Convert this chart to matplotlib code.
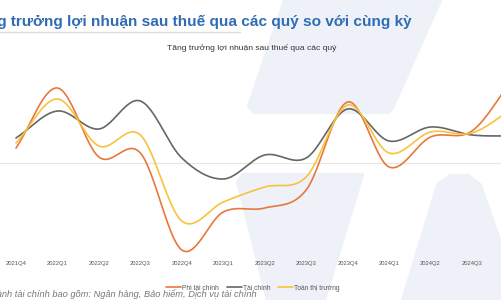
import numpy as np
import matplotlib
matplotlib.use("Agg")
from matplotlib import pyplot as plt
from matplotlib.patches import Polygon

plt.rcParams['font.family'] = ['Liberation Sans', 'DejaVu Sans']

quarters = ["2021Q4", "2022Q1", "2022Q2", "2022Q3", "2022Q4", "2023Q1", "2023Q2",
            "2023Q3", "2023Q4", "2024Q1", "2024Q2", "2024Q3", "2024Q4"]
phi_tai_chinh = [15, 75, 6, 10, -87, -49, -45, -27, 61, -4, 26, 32, 85]
tai_chinh = [25, 52, 34, 62, 5, -16, 8, 5, 54, 22, 36, 28, 27]
toan_thi_truong = [20, 64, 17, 28, -58, -39, -24, -14, 58, 10, 31, 30, 55]

series_names = ["Phi tài chính", "Tài chính", "Toàn thị trường"]
colors = ["#e9773c", "#666666", "#f9c23c"]

W, H = 501, 300


def px(x, y):
    # pixel (from top-left) -> figure fraction
    return (x / W, 1 - y / H)


def smooth(xs, ys, n=30):
    # cardinal (Catmull-Rom) spline through the points
    xs = np.asarray(xs, float)
    ys = np.asarray(ys, float)
    m = np.gradient(ys, xs)
    out_x, out_y = [], []
    for i in range(len(xs) - 1):
        t = np.linspace(0, 1, n, endpoint=False)
        h = xs[i + 1] - xs[i]
        h00 = 2 * t**3 - 3 * t**2 + 1
        h10 = t**3 - 2 * t**2 + t
        h01 = -2 * t**3 + 3 * t**2
        h11 = t**3 - t**2
        out_x.append(xs[i] + t * h)
        out_y.append(h00 * ys[i] + h10 * h * m[i] + h01 * ys[i + 1] + h11 * h * m[i + 1])
    out_x.append([xs[-1]])
    out_y.append([ys[-1]])
    return np.concatenate(out_x), np.concatenate(out_y)


fig = plt.figure(figsize=(W / 100, H / 100), dpi=100)
fig.patch.set_facecolor("white")

# watermark shapes in the background
bg = "#eef2f8"
shapes = [
    [(285, 0), (440, 0), (392, 108), (388, 112), (254, 112), (249, 106)],
    [(243, 175), (362, 175), (324, 300), (268, 300), (238, 182)],
    [(438, 185), (450, 176), (468, 176), (480, 185), (520, 300), (403, 300)],
]
for s in shapes:
    fig.patches.append(Polygon([px(*p) for p in s], closed=True, transform=fig.transFigure,
                               facecolor=bg, edgecolor=bg, lw=3, joinstyle="round", zorder=-5))

ax = fig.add_axes([0, 44 / H, 1, (256 - 45) / H])
ax.patch.set_visible(False)
x = np.arange(len(quarters))
for vals, name, c in zip([phi_tai_chinh, tai_chinh, toan_thi_truong], series_names, colors):
    sx, sy = smooth(x, vals)
    ax.plot(sx, sy, color=c, lw=1.2, label=name, solid_capstyle="round")

ax.axhline(0, color="#e6e6e6", lw=0.8, zorder=0)
ax.set_xlim(-0.386, 11.70)
ax.set_ylim(-93, 118)
# the last quarter sits past the right edge, so only the visible ones get a label
ax.set_xticks(x[:12])
ax.set_xticklabels(quarters[:12])
ax.tick_params(axis="x", length=0, pad=3.5, labelsize=4.2, labelcolor="#555555")
ax.set_yticks([])
for sp in ax.spines.values():
    sp.set_visible(False)

# titles
fig.text(*px(412, 22), "Tăng trưởng lợi nhuận sau thuế qua các quý so với cùng kỳ",
         ha="right", va="center", fontsize=11.05, fontweight="bold", color="#2f6cb3")
fig.add_artist(plt.Line2D([0, 240 / W], [1 - 32 / H, 1 - 32 / H], color="#999999",
                          lw=1, alpha=0.35))
fig.text(*px(252, 48), "Tăng trưởng lợi nhuận sau thuế qua các quý",
         ha="center", va="center", fontsize=6.1, color="#333333")

fig.legend(loc="center", bbox_to_anchor=px(253, 288), ncol=3, frameon=False,
           fontsize=4.8, labelcolor="#555555", handlelength=2.2, handletextpad=0.2,
           columnspacing=1.2, borderpad=0)

fig.text(*px(257, 294), "Ngành tài chính bao gồm: Ngân hàng, Bảo hiểm, Dịch vụ tài chính",
         ha="right", va="center", fontsize=6.65, style="italic", color="#777777")

fig.savefig("out.png", dpi=100)
